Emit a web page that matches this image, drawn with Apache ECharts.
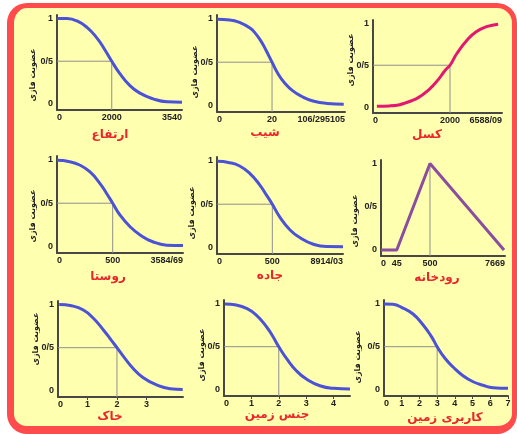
<!DOCTYPE html>
<html><head><meta charset="utf-8">
<script src="https://cdn.jsdelivr.net/npm/echarts@6/dist/echarts.min.js"></script>
<style>
html,body{margin:0;padding:0;background:#fff;}
#frame{position:absolute;left:7px;top:3px;width:510px;height:431px;box-sizing:border-box;border-style:solid;border-color:#ff4b4b;border-width:5px 5px 8px 7px;border-radius:20px;background:#ffffb0;}
#c{position:absolute;left:0;top:0;width:517px;height:434px;}
</style>
</head><body><div id="frame"></div><div id="c"></div>
<script>
// ---- texts ----
const titles = ['ارتفاع', 'شیب', 'کسل', 'روستا', 'جاده', 'رودخانه', 'خاک', 'جنس زمین', 'کاربری زمین'];
const yAxisName = 'عضویت فازی';
const yTickValues = [0, 0.5, 1];
const yTickLabels = ['0', '0/5', '1'];

// ---- data (rows 1-2: schematic x axis, position in % of axis length) ----
const p1X = [0, 8, 16, 24, 32, 38, 43.8, 50, 58, 66, 77, 88, 100];
const p1Y = [1.0, 0.998, 0.97, 0.895, 0.77, 0.64, 0.5, 0.36, 0.22, 0.13, 0.06, 0.025, 0.02];
const p1Ticks = [0, 43.8, 100];
const p1Labels = ['0', '2000', '3540'];
const p1Cross = [43.8, 0.5];

const p2X = [0, 10, 18, 26, 30, 34, 38, 43, 48, 53, 59, 66, 75, 86, 99];
const p2Y = [0.99, 0.983, 0.952, 0.888, 0.83, 0.75, 0.645, 0.5, 0.36, 0.26, 0.175, 0.11, 0.056, 0.028, 0.02];
const p2Ticks = [0, 43, 100];
const p2Labels = ['0', '20', '106/295105'];
const p2Cross = [43, 0.5];

const p3X = [3, 13, 26, 39, 49, 56, 59.7, 65, 73, 80, 88, 97];
const p3Y = [0.01, 0.015, 0.055, 0.155, 0.3, 0.44, 0.5, 0.64, 0.8, 0.9, 0.96, 0.99];
const p3Ticks = [0, 59.7, 100];
const p3Labels = ['0', '2000', '6588/09'];
const p3Cross = [59.7, 0.5];

const p4X = [0, 10, 18, 26, 34, 39, 44.2, 50, 58, 66, 76, 87, 100];
const p4Y = [0.99, 0.975, 0.937, 0.86, 0.727, 0.62, 0.5, 0.365, 0.231, 0.136, 0.059, 0.02, 0.015];
const p4Ticks = [0, 44.2, 100];
const p4Labels = ['0', '500', '3584/69'];
const p4Cross = [44.2, 0.5];

const p5X = [0, 10, 18, 26, 34, 39, 43.9, 50, 58, 66, 76, 87, 100];
const p5Y = [0.99, 0.975, 0.937, 0.853, 0.719, 0.61, 0.5, 0.35, 0.205, 0.116, 0.044, 0.015, 0.014];
const p5Ticks = [0, 43.9, 100];
const p5Labels = ['0', '500', '8914/03'];
const p5Cross = [43.9, 0.5];

const p6X = [0, 12.7, 39.5, 99.2];
const p6Y = [0, 0, 1, 0];
const p6Ticks = [0, 12.7, 39.5, 100];
const p6Labels = ['0', '45', '500', '7669'];
const p6Cross = [39.5, 1];

// ---- row 3: linear x axes ----
const p7X = [0.04, 0.46, 0.86, 1.2, 1.54, 1.78, 2.0, 2.25, 2.55, 2.88, 3.34, 3.8, 4.23];
const p7Y = [1.0, 0.985, 0.936, 0.84, 0.705, 0.6, 0.5, 0.385, 0.26, 0.156, 0.07, 0.025, 0.016];
const p7Ticks = [0, 1, 2, 3];
const p7Labels = ['0', '1', '2', '3'];
const p7Cross = [2, 0.5];

const p8X = [0.03, 0.45, 0.82, 1.18, 1.55, 1.78, 2.0, 2.28, 2.65, 3.02, 3.5, 4.0, 4.6];
const p8Y = [0.994, 0.982, 0.944, 0.866, 0.731, 0.62, 0.5, 0.366, 0.219, 0.123, 0.049, 0.019, 0.011];
const p8Ticks = [0, 1, 2, 3, 4];
const p8Labels = ['0', '1', '2', '3', '4'];
const p8Cross = [2, 0.5];

const p9X = [0, 0.5, 1.07, 1.64, 2.2, 2.67, 3.0, 3.43, 3.9, 4.46, 5.03, 5.59, 6.16, 7.0];
const p9Y = [0.995, 0.99, 0.947, 0.878, 0.754, 0.62, 0.5, 0.369, 0.265, 0.165, 0.095, 0.054, 0.026, 0.019];
const p9Ticks = [0, 1, 2, 3, 4, 5, 6, 7];
const p9Labels = ['0', '1', '2', '3', '4', '5', '6', '7'];
const p9Cross = [3, 0.5];

const xAxisMax = [100, 100, 100, 100, 100, 100, 4.24, 4.6, 7.0];
const yMin = -0.07, yMax = 1.04;

// ---- styles / layout ----
const BLUE = '#4b52d6', PINK = '#e3186f', PURPLE = '#8b4d9f';
const LAYOUT = [
  {left: 57,  top: 15,  width: 125, height: 95, title: [110, 135], name: [33, 75]},
  {left: 217, top: 15,  width: 128, height: 97, title: [265, 133], name: [195, 72]},
  {left: 373, top: 20,  width: 129, height: 93, title: [427, 135], name: [351, 60]},
  {left: 57,  top: 156, width: 126, height: 97, title: [108, 277], name: [33, 216]},
  {left: 217, top: 157, width: 126, height: 97, title: [270, 276], name: [192, 213]},
  {left: 381, top: 160, width: 124, height: 96, title: [437, 278], name: [355, 221]},
  {left: 58,  top: 301, width: 125, height: 96, title: [110, 417], name: [36, 339]},
  {left: 224, top: 300, width: 126, height: 96, title: [277, 415], name: [202, 355]},
  {left: 384, top: 300, width: 124, height: 96, title: [445, 418], name: [358, 357]}
];

const panels = [
  {x: p1X, y: p1Y, ticks: p1Ticks, labels: p1Labels, cross: p1Cross, color: BLUE},
  {x: p2X, y: p2Y, ticks: p2Ticks, labels: p2Labels, cross: p2Cross, color: BLUE},
  {x: p3X, y: p3Y, ticks: p3Ticks, labels: p3Labels, cross: p3Cross, color: PINK},
  {x: p4X, y: p4Y, ticks: p4Ticks, labels: p4Labels, cross: p4Cross, color: BLUE},
  {x: p5X, y: p5Y, ticks: p5Ticks, labels: p5Labels, cross: p5Cross, color: BLUE},
  {x: p6X, y: p6Y, ticks: p6Ticks, labels: p6Labels, cross: p6Cross, color: PURPLE, tri: true},
  {x: p7X, y: p7Y, ticks: p7Ticks, labels: p7Labels, cross: p7Cross, color: BLUE, linear: true},
  {x: p8X, y: p8Y, ticks: p8Ticks, labels: p8Labels, cross: p8Cross, color: BLUE, linear: true},
  {x: p9X, y: p9Y, ticks: p9Ticks, labels: p9Labels, cross: p9Cross, color: BLUE, linear: true}
];

const LABEL_FONT = 'Liberation Sans, Arial, sans-serif';
const FA_FONT = 'DejaVu Sans, sans-serif';
const AXIS_COLOR = '#474747';

function labelFor(ticks, labels, v) {
  let best = 0;
  for (let k = 1; k < ticks.length; k++) {
    if (Math.abs(ticks[k] - v) < Math.abs(ticks[best] - v)) best = k;
  }
  return labels[best];
}

const grid = [], xAxis = [], yAxis = [], series = [], graphic = [];
panels.forEach((p, i) => {
  const L = LAYOUT[i];
  grid.push({left: L.left, top: L.top, width: L.width, height: L.height, containLabel: false});
  xAxis.push({
    gridIndex: i, type: 'value', min: 0, max: xAxisMax[i],
    axisLine: {onZero: false, lineStyle: {color: AXIS_COLOR, width: 2}},
    axisTick: {show: !!p.linear, customValues: p.ticks.slice(1), length: 3, lineStyle: {color: AXIS_COLOR, width: 1}},
    splitLine: {show: false},
    axisLabel: {
      customValues: p.ticks,
      formatter: v => labelFor(p.ticks, p.labels, v),
      alignMinLabel: 'left',
      alignMaxLabel: p.linear ? 'center' : 'right',
      margin: 3, fontSize: 9, fontWeight: 'bold', color: '#222', fontFamily: LABEL_FONT
    }
  });
  yAxis.push({
    gridIndex: i, type: 'value', min: yMin, max: yMax,
    axisLine: {show: true, onZero: false, lineStyle: {color: AXIS_COLOR, width: 2}},
    axisTick: {show: false},
    splitLine: {show: false},
    axisLabel: {
      customValues: yTickValues,
      formatter: v => labelFor(yTickValues, yTickLabels, v),
      margin: 4, fontSize: 9, fontWeight: 'bold', color: '#222', fontFamily: LABEL_FONT
    }
  });
  // reference lines
  const refData = p.tri
    ? [[p.cross[0], p.cross[1]], [p.cross[0], yMin]]
    : [[0, p.cross[1]], [p.cross[0], p.cross[1]], [p.cross[0], yMin]];
  series.push({
    type: 'line', xAxisIndex: i, yAxisIndex: i, data: refData, symbol: 'none',
    silent: true, clip: false, z: 1,
    lineStyle: {color: '#8f8f8f', width: 1}
  });
  series.push({
    type: 'line', xAxisIndex: i, yAxisIndex: i,
    data: p.x.map((xv, k) => [xv, p.y[k]]),
    smooth: p.tri ? false : 0.5, symbol: 'none', clip: false, z: 3,
    lineStyle: {color: p.color, width: 3}
  });
  graphic.push({
    type: 'text', x: L.title[0], y: L.title[1], silent: true,
    style: {text: titles[i], align: 'center', verticalAlign: 'middle',
      font: 'bold 12px ' + FA_FONT, fill: '#e8262c'}
  });
  graphic.push({
    type: 'text', x: L.name[0], y: L.name[1], rotation: Math.PI / 2, silent: true,
    style: {text: yAxisName, align: 'center', verticalAlign: 'middle',
      font: 'bold 8px ' + FA_FONT, fill: '#222'}
  });
});

const chart = echarts.init(document.getElementById('c'), null, {renderer: 'canvas'});
chart.setOption({
  backgroundColor: 'transparent',
  animation: false,
  grid, xAxis, yAxis, series, graphic
});
</script>
</body></html>
